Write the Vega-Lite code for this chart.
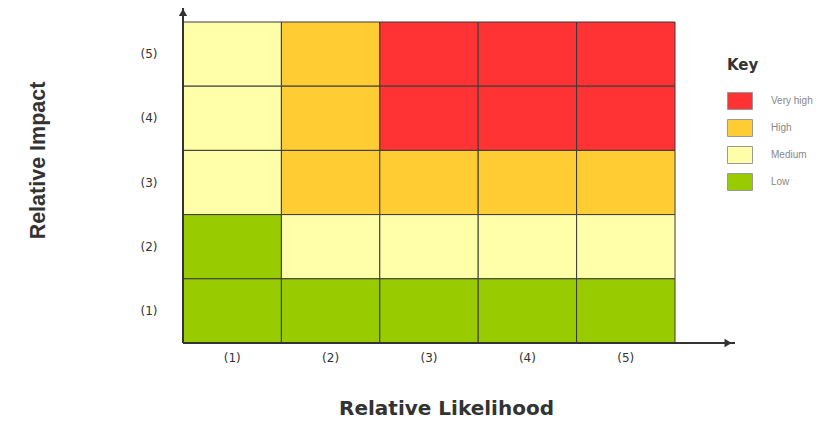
{
  "$schema": "https://vega.github.io/schema/vega-lite/v6.json",
  "width": 492,
  "height": 321,
  "autosize": "none",
  "padding": {"left": 183, "top": 22, "right": 155, "bottom": 78},
  "config": {
    "view": {"stroke": null},
    "font": "Liberation Sans"
  },
  "datasets": {
    "cells": [
      {"likelihood": 1, "impact": 5, "risk": "Medium"},
      {"likelihood": 2, "impact": 5, "risk": "High"},
      {"likelihood": 3, "impact": 5, "risk": "Very high"},
      {"likelihood": 4, "impact": 5, "risk": "Very high"},
      {"likelihood": 5, "impact": 5, "risk": "Very high"},
      {"likelihood": 1, "impact": 4, "risk": "Medium"},
      {"likelihood": 2, "impact": 4, "risk": "High"},
      {"likelihood": 3, "impact": 4, "risk": "Very high"},
      {"likelihood": 4, "impact": 4, "risk": "Very high"},
      {"likelihood": 5, "impact": 4, "risk": "Very high"},
      {"likelihood": 1, "impact": 3, "risk": "Medium"},
      {"likelihood": 2, "impact": 3, "risk": "High"},
      {"likelihood": 3, "impact": 3, "risk": "High"},
      {"likelihood": 4, "impact": 3, "risk": "High"},
      {"likelihood": 5, "impact": 3, "risk": "High"},
      {"likelihood": 1, "impact": 2, "risk": "Low"},
      {"likelihood": 2, "impact": 2, "risk": "Medium"},
      {"likelihood": 3, "impact": 2, "risk": "Medium"},
      {"likelihood": 4, "impact": 2, "risk": "Medium"},
      {"likelihood": 5, "impact": 2, "risk": "Medium"},
      {"likelihood": 1, "impact": 1, "risk": "Low"},
      {"likelihood": 2, "impact": 1, "risk": "Low"},
      {"likelihood": 3, "impact": 1, "risk": "Low"},
      {"likelihood": 4, "impact": 1, "risk": "Low"},
      {"likelihood": 5, "impact": 1, "risk": "Low"}
    ],
    "axes": [
      {"axis": "x", "x": 0, "y": 0, "x2": 1.122, "y2": 0},
      {"axis": "y", "x": 0, "y": 0, "x2": 0, "y2": 1.044}
    ],
    "heads": [
      {"axis": "x", "x": 1.108, "y": 0, "shape": "triangle-right"},
      {"axis": "y", "x": 0, "y": 1.03, "shape": "triangle-up"}
    ]
  },
  "layer": [
    {
      "data": {"name": "cells"},
      "mark": {"type": "rect", "stroke": "#3a3a3a", "strokeWidth": 1},
      "encoding": {
        "x": {
          "field": "likelihood", "type": "ordinal",
          "scale": {"paddingInner": 0, "paddingOuter": 0},
          "axis": {
            "labelAngle": 0, "labelExpr": "'(' + datum.label + ')'",
            "ticks": false, "tickSize": 0, "domain": false, "labelPadding": 9,
            "labelFont": "DejaVu Sans", "labelFontSize": 12, "labelColor": "#333",
            "title": "Relative Likelihood", "titleFont": "DejaVu Sans", "titleFontSize": 20, "titleFontWeight": "bold",
            "titleColor": "#333", "titleX": 263, "titleY": 65, "titleBaseline": "middle"
          }
        },
        "y": {
          "field": "impact", "type": "ordinal", "sort": "descending",
          "scale": {"paddingInner": 0, "paddingOuter": 0},
          "axis": {
            "ticks": false, "tickSize": 0, "domain": false, "labelPadding": 26,
            "labelExpr": "'(' + datum.label + ')'",
            "labelFont": "DejaVu Sans", "labelFontSize": 12, "labelColor": "#333",
            "title": "Relative Impact", "titleFontSize": 21.5, "titleFontWeight": "bold",
            "titleColor": "#333", "titleX": -145, "titleY": 138, "titleBaseline": "middle",
            "titleAlign": "center", "titleAngle": -90
          }
        },
        "color": {
          "field": "risk", "type": "nominal",
          "scale": {
            "domain": ["Very high", "High", "Medium", "Low"],
            "range": ["#FF3333", "#FFCC33", "#FFFFAA", "#99CC00"]
          },
          "legend": {
            "title": "Key", "orient": "none", "legendX": 544, "legendY": 36,
            "padding": 0, "titleFont": "DejaVu Sans", "titleFontSize": 15, "titleFontWeight": "bold", "titleColor": "#333",
            "titlePadding": 15,
            "symbolType": "M-1,-0.68H1V0.68H-1Z", "symbolSize": 625,
            "symbolStrokeColor": "#999", "symbolStrokeWidth": 1, "symbolOpacity": 1,
            "labelFontSize": 10, "labelColor": "#888", "labelOffset": 18,
            "rowPadding": 3
          }
        }
      }
    },
    {
      "data": {"name": "axes"},
      "mark": {"type": "rule", "color": "#333", "strokeWidth": 2},
      "encoding": {
        "x": {"field": "x", "type": "quantitative", "scale": {"domain": [0, 1]}, "axis": null},
        "y": {"field": "y", "type": "quantitative", "scale": {"domain": [0, 1]}, "axis": null},
        "x2": {"field": "x2"},
        "y2": {"field": "y2"}
      }
    },
    {
      "data": {"name": "heads"},
      "mark": {"type": "point", "filled": true, "color": "#333", "opacity": 1, "size": 70},
      "encoding": {
        "x": {"field": "x", "type": "quantitative", "scale": {"domain": [0, 1]}, "axis": null},
        "y": {"field": "y", "type": "quantitative", "scale": {"domain": [0, 1]}, "axis": null},
        "shape": {"field": "shape", "type": "nominal", "scale": null, "legend": null}
      }
    }
  ],
  "resolve": {"scale": {"x": "independent", "y": "independent"}}
}
